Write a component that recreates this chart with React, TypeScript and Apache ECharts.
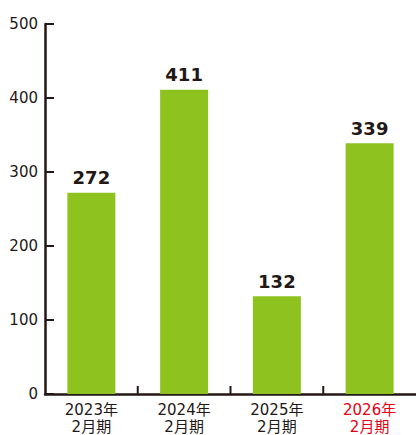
import React, { useEffect, useRef } from "react";
import * as echarts from "echarts";

const categories = ["2023年\n2月期", "2024年\n2月期", "2025年\n2月期", "2026年\n2月期"];
const values = [272, 411, 132, 339];
const yTicks = [0, 100, 200, 300, 400, 500];
const highlightIndex = 3;

const INK = "#231815";
const GREEN = "#8dc21f";
const RED = "#e60012";
const FONT = "'DejaVu Sans', 'Noto Sans CJK JP', sans-serif";
const GRID_LEFT = 45;

export default function App() {
  const ref = useRef<HTMLDivElement>(null);

  useEffect(() => {
    if (!ref.current) return;
    const chart = echarts.init(ref.current, undefined, { renderer: "svg" });
    chart.setOption({
      animation: false,
      grid: { left: GRID_LEFT, top: 24, width: 375, height: 374, containLabel: false },
      xAxis: {
        type: "category",
        data: categories,
        axisLine: { lineStyle: { color: INK, width: 2.5 } },
        axisTick: { show: false },
        axisLabel: {
          fontFamily: FONT,
          fontSize: 15,
          lineHeight: 17,
          margin: 7,
          color: (_v: string, i: number) => (i === highlightIndex ? RED : INK),
        },
      },
      yAxis: {
        type: "value",
        min: yTicks[0],
        max: yTicks[yTicks.length - 1],
        interval: 100,
        splitLine: { show: false },
        axisLine: { show: true, lineStyle: { color: INK, width: 2.5 } },
        axisTick: { show: false },
        axisLabel: { fontFamily: FONT, fontSize: 15, color: INK, margin: 7 },
      },
      series: [
        {
          type: "bar",
          data: values,
          barWidth: 48,
          itemStyle: { color: GREEN },
          label: {
            show: true,
            position: "top",
            distance: 6,
            fontFamily: FONT,
            fontWeight: "bold",
            fontSize: 18,
            color: INK,
          },
        },
      ],
    });

    // Inward tick marks, placed from the axis scales
    const ticks: any[] = [];
    yTicks.forEach((v) => {
      const p = chart.convertToPixel({ yAxisIndex: 0 }, v) as number;
      ticks.push({
        type: "line",
        z: 10,
        shape: { x1: GRID_LEFT, y1: p, x2: GRID_LEFT + 9, y2: p },
        style: { stroke: INK, lineWidth: 2 },
      });
    });
    const yBase = chart.convertToPixel({ yAxisIndex: 0 }, 0) as number;
    for (let i = 1; i < categories.length; i++) {
      const a = chart.convertToPixel({ xAxisIndex: 0 }, i - 1) as number;
      const b = chart.convertToPixel({ xAxisIndex: 0 }, i) as number;
      const x = (a + b) / 2;
      ticks.push({
        type: "line",
        z: 10,
        shape: { x1: x, y1: yBase, x2: x, y2: yBase - 8 },
        style: { stroke: INK, lineWidth: 2 },
      });
    }
    chart.setOption({ graphic: ticks });

    return () => chart.dispose();
  }, []);

  return (
    <div
      ref={ref}
      style={{ position: "fixed", left: 0, top: 0, width: 416, height: 435, background: "#fff" }}
    />
  );
}
